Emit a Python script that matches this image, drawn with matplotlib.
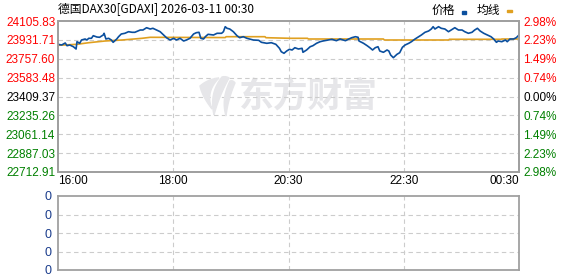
import matplotlib.pyplot as plt
from matplotlib.patches import Polygon
import numpy as np

plt.rcParams['font.family'] = ['Liberation Sans', 'Noto Sans CJK SC', 'DejaVu Sans']

# price data (minute from 16:00, index value)
minutes = [0, 4, 8, 10, 13, 17, 20, 21, 24, 26, 30, 32, 34, 37, 39, 43, 46, 50, 51, 53,
           56, 59, 61, 65, 67, 70, 74, 78, 82, 85, 91, 94, 98, 102, 105, 109, 113, 116, 120, 124,
           128, 131, 135, 139, 142, 146, 150, 153, 156, 158, 161, 163, 166, 172, 176, 181, 183, 185, 187, 190,
           194, 198, 201, 205, 209, 212, 216, 222, 225, 231, 236, 241, 245, 247, 250, 253, 256, 259, 262, 266,
           270, 271, 275, 279, 282, 286, 290, 293, 299, 303, 308, 312, 318, 321, 325, 329, 332, 333, 338, 342,
           345, 348, 351, 354, 356, 360, 364, 366, 368, 371, 375, 378, 381, 384, 388, 391, 395, 399, 402, 406,
           410, 413, 415, 417, 421, 424, 428, 432, 435, 439, 443, 447, 450, 454, 458, 461, 464, 467, 471, 475,
           479, 482, 485, 487, 491, 495, 497, 500, 504, 507, 510]
price = [23890.9, 23884.4, 23902.9, 23878.0, 23884.4, 23868.7, 23847.5, 23914.9, 23900.1, 23930.6,
         23939.8, 23930.6, 23946.2, 23946.2, 23970.2, 23958.2, 23955.4, 23976.7, 23992.4, 23939.8,
         23946.2, 23930.6, 23909.3, 23939.8, 23961.0, 23985.9, 23992.4, 24007.1, 24001.6, 24001.6,
         24022.8, 24022.8, 24044.0, 24032.0, 24038.5, 24022.8, 24007.1, 23983.1, 23951.8, 23930.6,
         23946.2, 23930.6, 23946.2, 23921.3, 23930.6, 23946.2, 23985.9, 23997.9, 24001.6, 23946.2,
         23939.8, 23961.0, 23983.1, 23976.7, 23992.4, 23992.4, 24007.1, 24053.2, 24038.5, 24032.0,
         24007.1, 23970.2, 23951.8, 23961.0, 23946.2, 23939.8, 23930.6, 23927.8, 23909.3, 23900.1,
         23905.6, 23890.9, 23854.0, 23822.6, 23807.8, 23829.1, 23844.7, 23838.3, 23859.5, 23847.5,
         23854.0, 23817.1, 23838.3, 23868.7, 23878.0, 23900.1, 23914.9, 23921.3, 23930.6, 23937.0,
         23924.1, 23939.8, 23924.1, 23937.0, 23951.8, 23961.0, 23955.4, 23921.3, 23900.1, 23878.0,
         23859.5, 23838.3, 23859.5, 23868.7, 23829.1, 23817.1, 23838.3, 23829.1, 23792.2, 23767.3,
         23798.6, 23813.4, 23863.2, 23884.4, 23900.1, 23914.9, 23939.8, 23961.0, 23976.7, 24001.6,
         24013.6, 24032.0, 24053.2, 24032.0, 24053.2, 24038.5, 24032.0, 24007.1, 24022.8, 24044.0,
         24022.8, 24022.8, 24007.1, 23992.4, 24001.6, 24022.8, 24038.5, 24013.6, 23992.4, 23976.7,
         23961.0, 23939.8, 23909.3, 23921.3, 23914.9, 23930.6, 23914.9, 23939.8, 23939.8, 23951.8,
         23976.7]

avg_minutes = [0, 21, 34, 52, 71, 93, 102, 185, 186, 229, 230, 257, 276, 277, 360, 361, 432, 433, 490, 491, 510]
avg_price = [23881.6, 23890.9, 23905.6, 23921.3, 23930.6, 23946.2, 23955.4, 23953.0, 23961.0, 23961.0,
             23951.8, 23946.2, 23946.2, 23939.8, 23939.8, 23930.6, 23930.6, 23937.0, 23937.0, 23939.8,
             23939.8]

prev_close = 23409.37
left_ticks = [24105.83, 23931.71, 23757.60, 23583.48, 23409.37, 23235.26, 23061.14, 22887.03, 22712.91]
pct_labels = ['2.98%', '2.23%', '1.49%', '0.74%', '0.00%', '0.74%', '1.49%', '2.23%', '2.98%']
time_pos = [0, 127.5, 255, 382.5, 510]
time_labels = ['16:00', '18:00', '20:30', '22:30', '00:30']
vol_ticks = [0, 1, 2, 3, 4]
vol_labels = ['0', '0', '0', '0', '0']

red, green, blue_txt = '#ff0000', '#008000', '#1a3c8c'
tick_colors = [red] * 4 + ['#000000'] + [green] * 4
grid_kw = dict(color='#cccccc', linestyle=(0, (4, 3)), linewidth=0.8)
W, H = 578, 276

fig = plt.figure(figsize=(5.78, 2.76), dpi=100)
ax = fig.add_axes([58 / W, 1 - 172 / H, 461 / W, 151 / H])
axv = fig.add_axes([58 / W, 1 - 270 / H, 461 / W, 74 / H])


def bez(p0, p1, p2, n=20):
    t = np.linspace(0, 1, n)[:, None]
    return (1 - t) ** 2 * np.array(p0) + 2 * (1 - t) * t * np.array(p1) + t ** 2 * np.array(p2)


# watermark: logo strands (pixel coords) + text
wm = '#e6e6e9'
strands = [
    [((200, 86), (208, 79), (219, 78)), ((219, 78), (205, 92), (212, 109)), ((212, 109), (202, 96), (200, 86))],
    [((222, 77), (209, 93), (214, 115)), ((214, 115), (219, 96), (229, 78)), ((229, 78), (226, 76), (222, 77))],
    [((230, 81), (221, 99), (226, 116)), ((226, 116), (228, 99), (235, 83)), ((235, 83), (233, 80), (230, 81))],
]
for segs in strands:
    pts = np.vstack([bez(*s) for s in segs])
    pts = np.column_stack([pts[:, 0] / W, 1 - pts[:, 1] / H])
    fig.patches.append(Polygon(pts, closed=True, color=wm, transform=fig.transFigure, zorder=0))
ax.text((239 - 58) / 461, 0.5, '东方财富', transform=ax.transAxes, ha='left', va='center',
        fontsize=25, fontweight='bold', color=wm, family='Noto Sans CJK SC', zorder=0)
ax.patch.set_alpha(0)

ax.plot(avg_minutes, avg_price, color='#e0a020', lw=1.2, zorder=3)
ax.plot(minutes, price, color='#0b4f9e', lw=1.2, zorder=4)

ax.set_xlim(0, 510)
ax.set_ylim(left_ticks[-1], left_ticks[0])
ax.set_yticks(left_ticks)
ax.set_yticklabels(['%.2f' % v for v in left_ticks], fontsize=8.5)
for lbl, c in zip(ax.get_yticklabels(), tick_colors):
    lbl.set_color(c)
ax.set_xticks(time_pos)
ax.set_xticklabels(time_labels, fontsize=8.5)
xl = ax.get_xticklabels()
xl[0].set_ha('left')
xl[-1].set_ha('right')
ax.tick_params(length=0, pad=2)

ax2 = ax.twinx()
ax2.set_ylim(ax.get_ylim())
ax2.set_yticks(left_ticks)
ax2.set_yticklabels(pct_labels, fontsize=8.5)
for lbl, c in zip(ax2.get_yticklabels(), tick_colors):
    lbl.set_color(c)
ax2.tick_params(length=0, pad=3)

for v in left_ticks[1:-1]:
    ax.axhline(v, **grid_kw, zorder=1)
for t in time_pos[1:-1]:
    ax.axvline(t, **grid_kw, zorder=1)

for a in (ax, ax2, axv):
    for s in a.spines.values():
        s.set_color('#a0a0a0')
        s.set_linewidth(1.3)

# volume panel (empty)
axv.set_xlim(0, 510)
axv.set_ylim(0, 4)
axv.set_yticks(vol_ticks)
axv.set_yticklabels(vol_labels, fontsize=9, color=blue_txt)
axv.set_xticks([])
axv.tick_params(length=0, pad=5)
for v in vol_ticks[1:-1]:
    axv.axhline(v, **grid_kw)
for t in time_pos[1:-1]:
    axv.axvline(t, **grid_kw)

# title and legend
fig.text(58 / W, 1 - 10 / H, '德国DAX30[GDAXI] 2026-03-11 00:30', fontsize=8.5,
         va='center', ha='left', family=['Noto Sans CJK SC', 'DejaVu Sans'])
fig.text(455 / W, 1 - 10 / H, '价格', fontsize=8.5, va='center', ha='right',
         family=['Noto Sans CJK SC'])
fig.patches.append(plt.Rectangle((462 / W, 1 - 14 / H), 4 / W, 3 / H,
                                 color='#0b4f9e', transform=fig.transFigure))
fig.text(500 / W, 1 - 10 / H, '均线', fontsize=8.5, va='center', ha='right',
         family=['Noto Sans CJK SC'])
fig.patches.append(plt.Rectangle((507 / W, 1 - 12 / H), 5 / W, 2 / H,
                                 color='#e0a020', transform=fig.transFigure))

fig.savefig('out.png', dpi=100)
